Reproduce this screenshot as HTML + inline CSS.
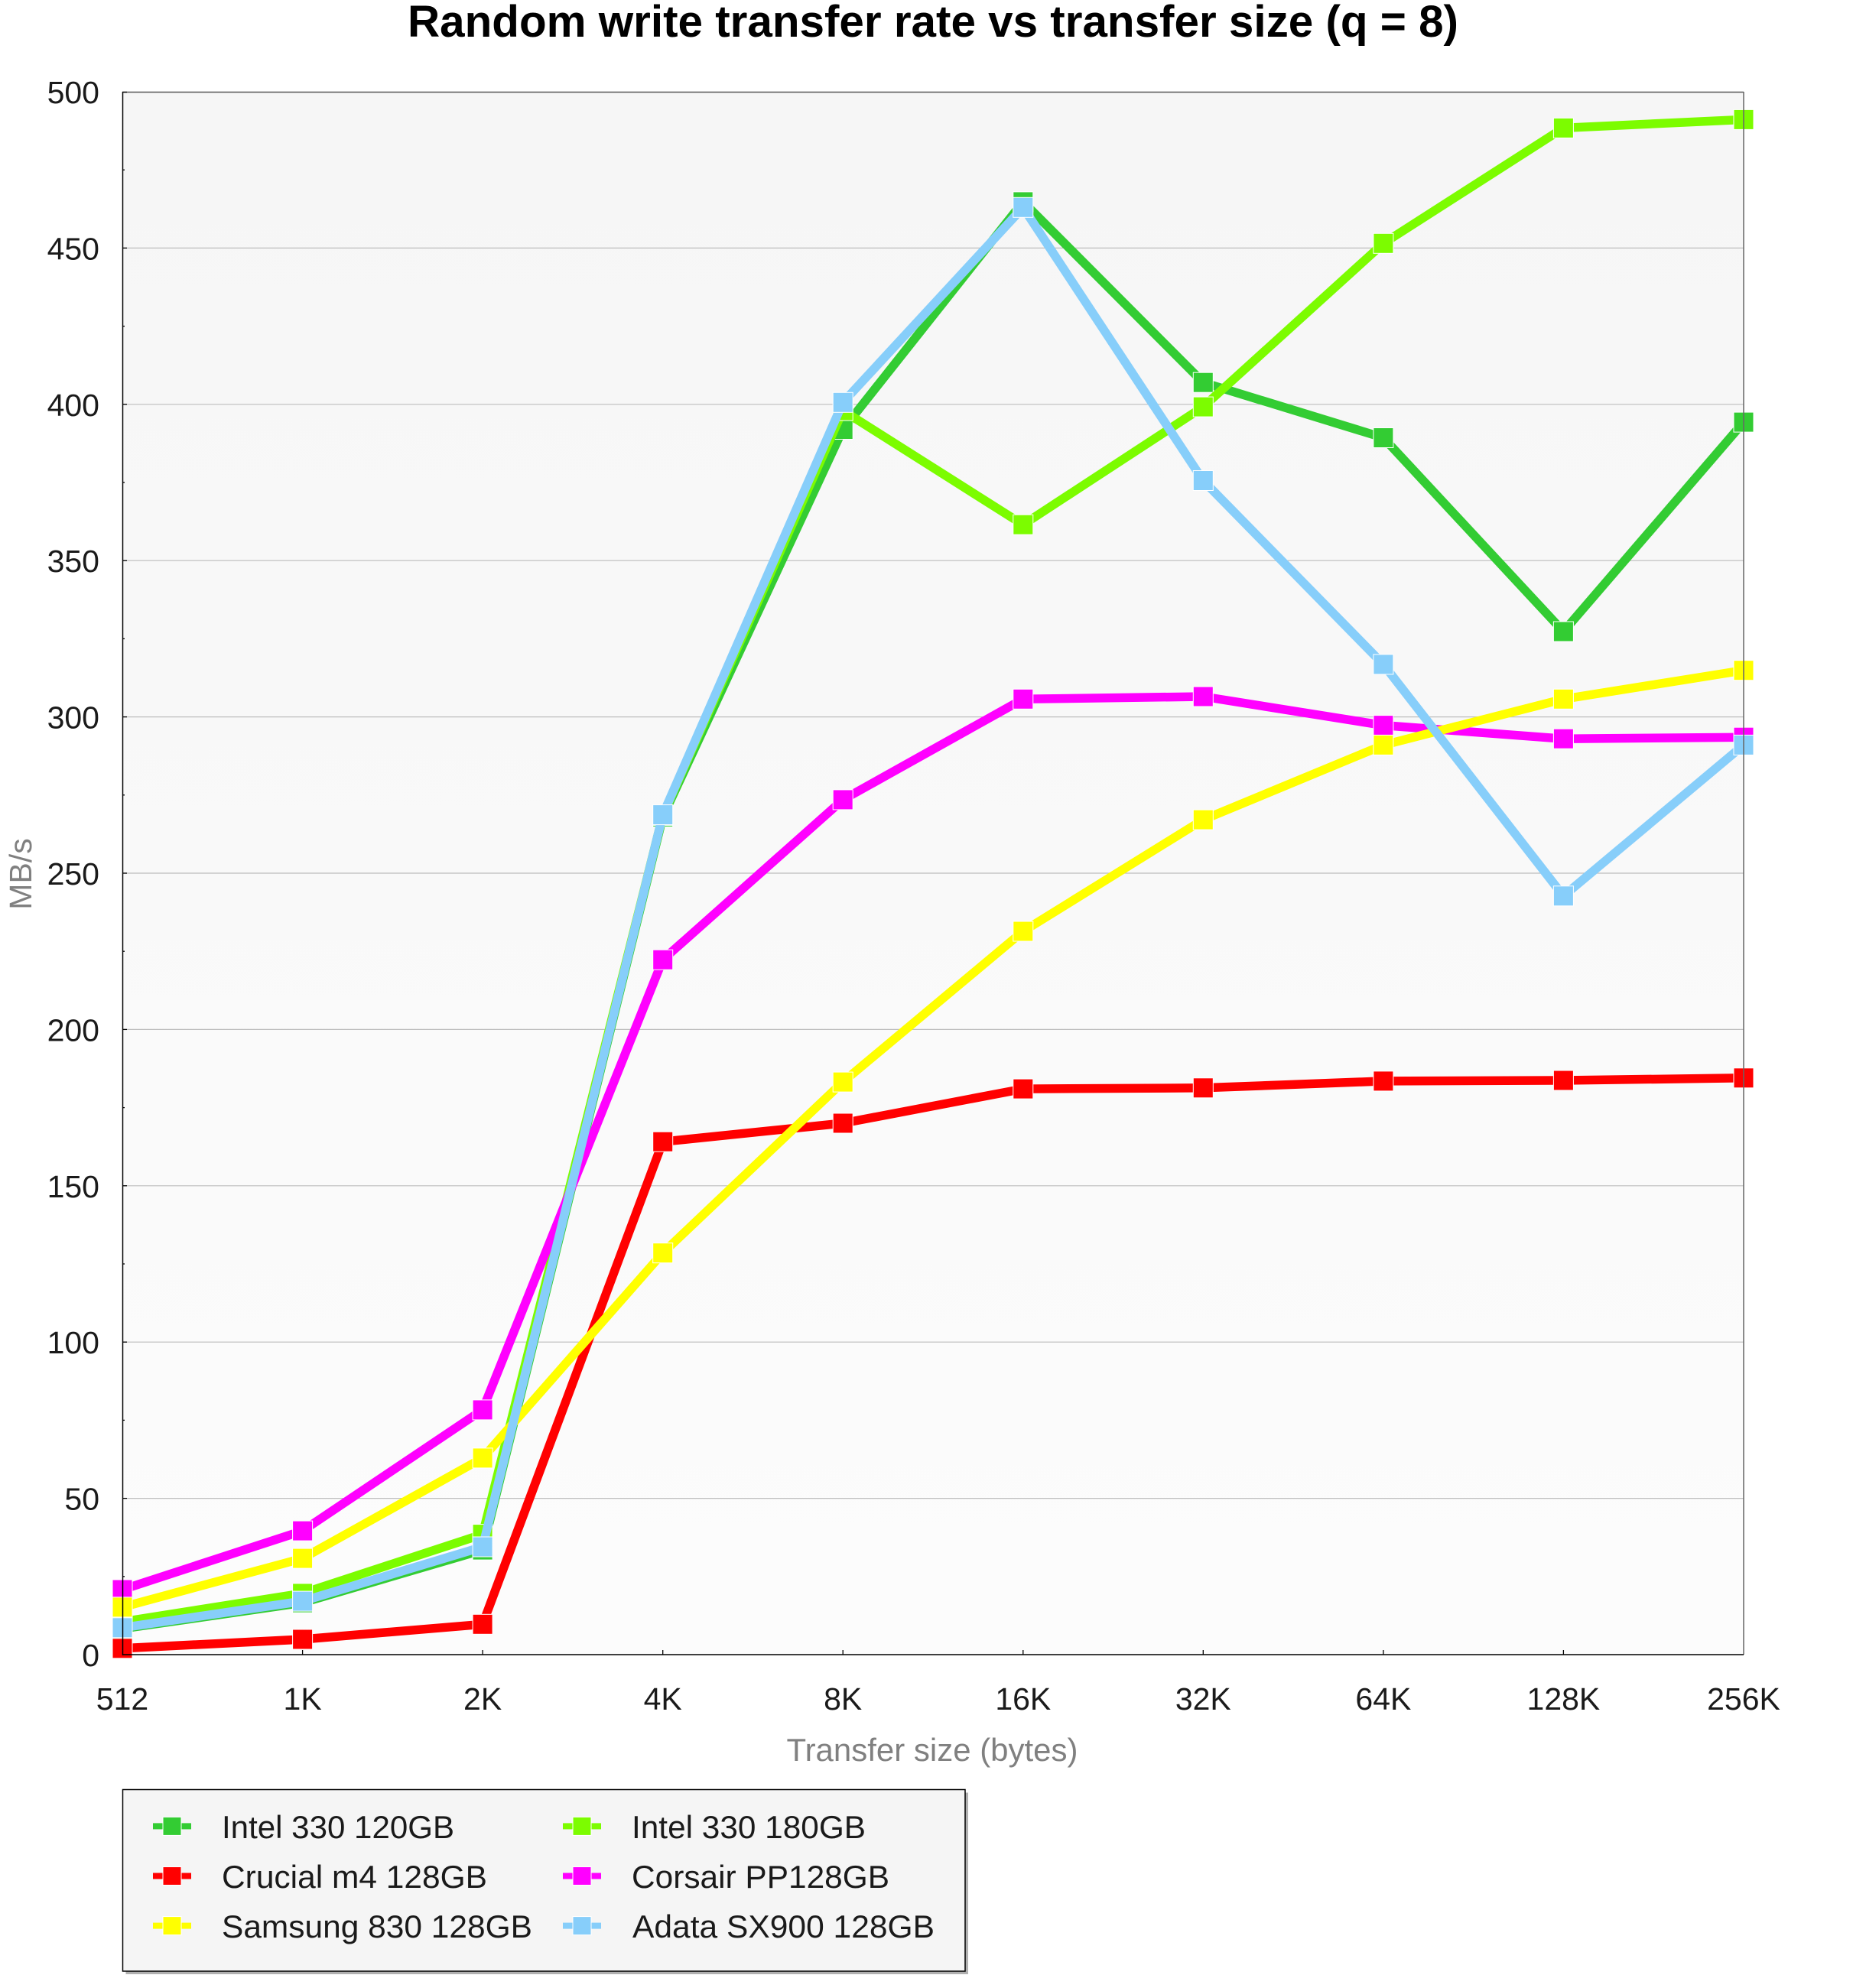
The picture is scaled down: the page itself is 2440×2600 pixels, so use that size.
<!DOCTYPE html>
<html>
<head>
<meta charset="utf-8">
<style>
html,body{margin:0;padding:0;background:#fff;}
svg{display:block;}
text{font-family:"Liberation Sans",Arial,sans-serif;}
</style>
</head>
<body>
<svg width="2440" height="2600" viewBox="0 0 2440 2600" xmlns="http://www.w3.org/2000/svg">
<defs>
<linearGradient id="bg" x1="0" y1="0" x2="0" y2="1">
<stop offset="0" stop-color="#f6f6f6"/>
<stop offset="1" stop-color="#fcfcfc"/>
</linearGradient>
</defs>
<rect x="0" y="0" width="2440" height="2600" fill="#fff"/>
<!-- Title -->
<text x="1220" y="48" text-anchor="middle" font-size="58.5" font-weight="bold" fill="#000" textLength="1374" lengthAdjust="spacingAndGlyphs">Random write transfer rate vs transfer size (q = 8)</text>

<!-- plot background -->
<rect x="160" y="120" width="2120" height="2044" fill="url(#bg)"/>

<!-- gridlines -->
<g stroke="#bdbdbd" stroke-width="1.2">
<line x1="160" y1="1959.6" x2="2280" y2="1959.6"/>
<line x1="160" y1="1755.2" x2="2280" y2="1755.2"/>
<line x1="160" y1="1550.8" x2="2280" y2="1550.8"/>
<line x1="160" y1="1346.4" x2="2280" y2="1346.4"/>
<line x1="160" y1="1142.0" x2="2280" y2="1142.0"/>
<line x1="160" y1="937.6" x2="2280" y2="937.6"/>
<line x1="160" y1="733.2" x2="2280" y2="733.2"/>
<line x1="160" y1="528.8" x2="2280" y2="528.8"/>
<line x1="160" y1="324.4" x2="2280" y2="324.4"/>
</g>

<!-- Series: Intel 330 120GB -->
<g>
<polyline fill="none" stroke="#33cc33" stroke-width="11.5" stroke-linejoin="bevel" points="160,2130.1 395.6,2096.1 631.1,2027.1 866.7,1068.4 1102.2,561.5 1337.8,263.9 1573.3,500.2 1808.9,572.5 2044.4,826.0 2280,552.1"/>
<g fill="#33cc33" stroke="#fff" stroke-width="1">
<rect x="147" y="2117.1" width="26" height="26"/>
<rect x="382.6" y="2083.1" width="26" height="26"/>
<rect x="618.1" y="2014.1" width="26" height="26"/>
<rect x="853.7" y="1055.4" width="26" height="26"/>
<rect x="1089.2" y="548.5" width="26" height="26"/>
<rect x="1324.8" y="250.9" width="26" height="26"/>
<rect x="1560.3" y="487.2" width="26" height="26"/>
<rect x="1795.9" y="559.5" width="26" height="26"/>
<rect x="2031.4" y="813.0" width="26" height="26"/>
<rect x="2267" y="539.1" width="26" height="26"/>
</g>
</g>

<!-- Series: Intel 330 180GB -->
<g>
<polyline fill="none" stroke="#7cfc00" stroke-width="11.5" stroke-linejoin="bevel" points="160,2121.1 395.6,2083.9 631.1,2006.6 866.7,1066.4 1102.2,537.0 1337.8,686.2 1573.3,532.1 1808.9,318.3 2044.4,167.4 2280,156.4"/>
<g fill="#7cfc00" stroke="#fff" stroke-width="1">
<rect x="147" y="2108.1" width="26" height="26"/>
<rect x="382.6" y="2070.9" width="26" height="26"/>
<rect x="618.1" y="1993.6" width="26" height="26"/>
<rect x="853.7" y="1053.4" width="26" height="26"/>
<rect x="1089.2" y="524.0" width="26" height="26"/>
<rect x="1324.8" y="673.2" width="26" height="26"/>
<rect x="1560.3" y="519.1" width="26" height="26"/>
<rect x="1795.9" y="305.3" width="26" height="26"/>
<rect x="2031.4" y="154.4" width="26" height="26"/>
<rect x="2267" y="143.4" width="26" height="26"/>
</g>
</g>

<!-- Series: Crucial m4 128GB -->
<g>
<polyline fill="none" stroke="#ff0000" stroke-width="11.5" stroke-linejoin="bevel" points="160,2155.8 395.6,2144.0 631.1,2124.3 866.7,1493.2 1102.2,1469.0 1337.8,1424.1 1573.3,1422.8 1808.9,1413.9 2044.4,1413.0 2280,1409.8"/>
<g fill="#ff0000" stroke="#fff" stroke-width="1">
<rect x="147" y="2142.8" width="26" height="26"/>
<rect x="382.6" y="2131.0" width="26" height="26"/>
<rect x="618.1" y="2111.3" width="26" height="26"/>
<rect x="853.7" y="1480.2" width="26" height="26"/>
<rect x="1089.2" y="1456.0" width="26" height="26"/>
<rect x="1324.8" y="1411.1" width="26" height="26"/>
<rect x="1560.3" y="1409.8" width="26" height="26"/>
<rect x="1795.9" y="1400.9" width="26" height="26"/>
<rect x="2031.4" y="1400.0" width="26" height="26"/>
<rect x="2267" y="1396.8" width="26" height="26"/>
</g>
</g>

<!-- Series: Corsair PP128GB -->
<g>
<polyline fill="none" stroke="#ff00ff" stroke-width="11.5" stroke-linejoin="bevel" points="160,2079.0 395.6,2002.1 631.1,1843.9 866.7,1255.2 1102.2,1045.9 1337.8,914.3 1573.3,911.0 1808.9,948.6 2044.4,966.2 2280,964.2"/>
<g fill="#ff00ff" stroke="#fff" stroke-width="1">
<rect x="147" y="2066.0" width="26" height="26"/>
<rect x="382.6" y="1989.1" width="26" height="26"/>
<rect x="618.1" y="1830.9" width="26" height="26"/>
<rect x="853.7" y="1242.2" width="26" height="26"/>
<rect x="1089.2" y="1032.9" width="26" height="26"/>
<rect x="1324.8" y="901.3" width="26" height="26"/>
<rect x="1560.3" y="898.0" width="26" height="26"/>
<rect x="1795.9" y="935.6" width="26" height="26"/>
<rect x="2031.4" y="953.2" width="26" height="26"/>
<rect x="2267" y="951.2" width="26" height="26"/>
</g>
</g>

<!-- Series: Samsung 830 128GB -->
<g>
<polyline fill="none" stroke="#ffff00" stroke-width="11.5" stroke-linejoin="bevel" points="160,2101.9 395.6,2038.1 631.1,1906.9 866.7,1638.7 1102.2,1415.1 1337.8,1218.0 1573.3,1072.1 1808.9,974.4 2044.4,914.3 2280,876.7"/>
<g fill="#ffff00" stroke="#fff" stroke-width="1">
<rect x="147" y="2088.9" width="26" height="26"/>
<rect x="382.6" y="2025.1" width="26" height="26"/>
<rect x="618.1" y="1893.9" width="26" height="26"/>
<rect x="853.7" y="1625.7" width="26" height="26"/>
<rect x="1089.2" y="1402.1" width="26" height="26"/>
<rect x="1324.8" y="1205.0" width="26" height="26"/>
<rect x="1560.3" y="1059.1" width="26" height="26"/>
<rect x="1795.9" y="961.4" width="26" height="26"/>
<rect x="2031.4" y="901.3" width="26" height="26"/>
<rect x="2267" y="863.7" width="26" height="26"/>
</g>
</g>

<!-- Series: Adata SX900 128GB -->
<g>
<polyline fill="none" stroke="#87cefa" stroke-width="11.5" stroke-linejoin="bevel" points="160,2128.8 395.6,2094.1 631.1,2023.0 866.7,1065.6 1102.2,526.3 1337.8,271.3 1573.3,628.5 1808.9,868.9 2044.4,1171.8 2280,974.4"/>
<g fill="#87cefa" stroke="#fff" stroke-width="1">
<rect x="147" y="2115.8" width="26" height="26"/>
<rect x="382.6" y="2081.1" width="26" height="26"/>
<rect x="618.1" y="2010.0" width="26" height="26"/>
<rect x="853.7" y="1052.6" width="26" height="26"/>
<rect x="1089.2" y="513.3" width="26" height="26"/>
<rect x="1324.8" y="258.3" width="26" height="26"/>
<rect x="1560.3" y="615.5" width="26" height="26"/>
<rect x="1795.9" y="855.9" width="26" height="26"/>
<rect x="2031.4" y="1158.8" width="26" height="26"/>
<rect x="2267" y="961.4" width="26" height="26"/>
</g>
</g>

<!-- frame -->
<line x1="160" y1="120.5" x2="2280" y2="120.5" stroke="#555" stroke-width="1.5"/>
<line x1="2280" y1="120" x2="2280" y2="2164" stroke="#666" stroke-width="1.5"/>
<line x1="160.5" y1="120" x2="160.5" y2="2165" stroke="#000" stroke-width="1.5"/>
<line x1="160" y1="2164" x2="2280" y2="2164" stroke="#000" stroke-width="1.5"/>

<!-- y ticks major -->
<g stroke="#000" stroke-width="1.3">
<line x1="160" y1="1959.6" x2="166" y2="1959.6"/>
<line x1="160" y1="1755.2" x2="166" y2="1755.2"/>
<line x1="160" y1="1550.8" x2="166" y2="1550.8"/>
<line x1="160" y1="1346.4" x2="166" y2="1346.4"/>
<line x1="160" y1="1142.0" x2="166" y2="1142.0"/>
<line x1="160" y1="937.6" x2="166" y2="937.6"/>
<line x1="160" y1="733.2" x2="166" y2="733.2"/>
<line x1="160" y1="528.8" x2="166" y2="528.8"/>
<line x1="160" y1="324.4" x2="166" y2="324.4"/>
<line x1="160" y1="120.5" x2="166" y2="120.5"/>
<!-- minor -->
<line x1="160" y1="2061.8" x2="163" y2="2061.8"/>
<line x1="160" y1="1857.4" x2="163" y2="1857.4"/>
<line x1="160" y1="1653.0" x2="163" y2="1653.0"/>
<line x1="160" y1="1448.6" x2="163" y2="1448.6"/>
<line x1="160" y1="1244.2" x2="163" y2="1244.2"/>
<line x1="160" y1="1039.8" x2="163" y2="1039.8"/>
<line x1="160" y1="835.4" x2="163" y2="835.4"/>
<line x1="160" y1="631.0" x2="163" y2="631.0"/>
<line x1="160" y1="426.6" x2="163" y2="426.6"/>
<line x1="160" y1="222.2" x2="163" y2="222.2"/>
<!-- x ticks -->
<line x1="395.6" y1="2164" x2="395.6" y2="2158"/>
<line x1="631.1" y1="2164" x2="631.1" y2="2158"/>
<line x1="866.7" y1="2164" x2="866.7" y2="2158"/>
<line x1="1102.2" y1="2164" x2="1102.2" y2="2158"/>
<line x1="1337.8" y1="2164" x2="1337.8" y2="2158"/>
<line x1="1573.3" y1="2164" x2="1573.3" y2="2158"/>
<line x1="1808.9" y1="2164" x2="1808.9" y2="2158"/>
<line x1="2044.4" y1="2164" x2="2044.4" y2="2158"/>
</g>

<!-- y tick labels -->
<g font-size="41" fill="#1a1a1a" text-anchor="end">
<text x="130" y="2179">0</text>
<text x="130" y="1974.6">50</text>
<text x="130" y="1770.2">100</text>
<text x="130" y="1565.8">150</text>
<text x="130" y="1361.4">200</text>
<text x="130" y="1157">250</text>
<text x="130" y="952.6">300</text>
<text x="130" y="748.2">350</text>
<text x="130" y="543.8">400</text>
<text x="130" y="339.4">450</text>
<text x="130" y="135">500</text>
</g>

<!-- x tick labels -->
<g font-size="41" fill="#1a1a1a" text-anchor="middle">
<text x="160" y="2236">512</text>
<text x="395.6" y="2236">1K</text>
<text x="631.1" y="2236">2K</text>
<text x="866.7" y="2236">4K</text>
<text x="1102.2" y="2236">8K</text>
<text x="1337.8" y="2236">16K</text>
<text x="1573.3" y="2236">32K</text>
<text x="1808.9" y="2236">64K</text>
<text x="2044.4" y="2236">128K</text>
<text x="2280" y="2236">256K</text>
</g>

<!-- axis titles -->
<text x="1219" y="2303" font-size="41.5" fill="#808080" text-anchor="middle" textLength="381" lengthAdjust="spacingAndGlyphs">Transfer size (bytes)</text>
<text x="41" y="1143" font-size="41" fill="#808080" text-anchor="middle" transform="rotate(-90 41 1143)">MB/s</text>

<!-- legend -->
<rect x="164.5" y="2344.5" width="1101.5" height="237.5" fill="#b0b0b0"/>
<rect x="160.5" y="2340.5" width="1101.5" height="237.5" fill="#f5f5f5" stroke="#000" stroke-width="1.5"/>

<g>
<rect x="200" y="2384.4" width="50" height="8" fill="#33cc33"/>
<rect x="213" y="2376.4" width="24" height="24" fill="#33cc33" stroke="#fff" stroke-width="1"/>
<text x="290" y="2404" font-size="42" fill="#1a1a1a" textLength="304" lengthAdjust="spacingAndGlyphs">Intel 330 120GB</text>

<rect x="200" y="2449.5" width="50" height="8" fill="#ff0000"/>
<rect x="213" y="2441.5" width="24" height="24" fill="#ff0000" stroke="#fff" stroke-width="1"/>
<text x="290" y="2469" font-size="42" fill="#1a1a1a" textLength="347" lengthAdjust="spacingAndGlyphs">Crucial m4 128GB</text>

<rect x="200" y="2514.6" width="50" height="8" fill="#ffff00"/>
<rect x="213" y="2506.6" width="24" height="24" fill="#ffff00" stroke="#fff" stroke-width="1"/>
<text x="290" y="2534" font-size="42" fill="#1a1a1a" textLength="406" lengthAdjust="spacingAndGlyphs">Samsung 830 128GB</text>

<rect x="736" y="2384.4" width="50" height="8" fill="#7cfc00"/>
<rect x="749" y="2376.4" width="24" height="24" fill="#7cfc00" stroke="#fff" stroke-width="1"/>
<text x="826" y="2404" font-size="42" fill="#1a1a1a" textLength="306" lengthAdjust="spacingAndGlyphs">Intel 330 180GB</text>

<rect x="736" y="2449.5" width="50" height="8" fill="#ff00ff"/>
<rect x="749" y="2441.5" width="24" height="24" fill="#ff00ff" stroke="#fff" stroke-width="1"/>
<text x="826" y="2469" font-size="42" fill="#1a1a1a" textLength="337" lengthAdjust="spacingAndGlyphs">Corsair PP128GB</text>

<rect x="736" y="2514.6" width="50" height="8" fill="#87cefa"/>
<rect x="749" y="2506.6" width="24" height="24" fill="#87cefa" stroke="#fff" stroke-width="1"/>
<text x="827" y="2534" font-size="42" fill="#1a1a1a" textLength="395" lengthAdjust="spacingAndGlyphs">Adata SX900 128GB</text>
</g>
</svg>
</body>
</html>
